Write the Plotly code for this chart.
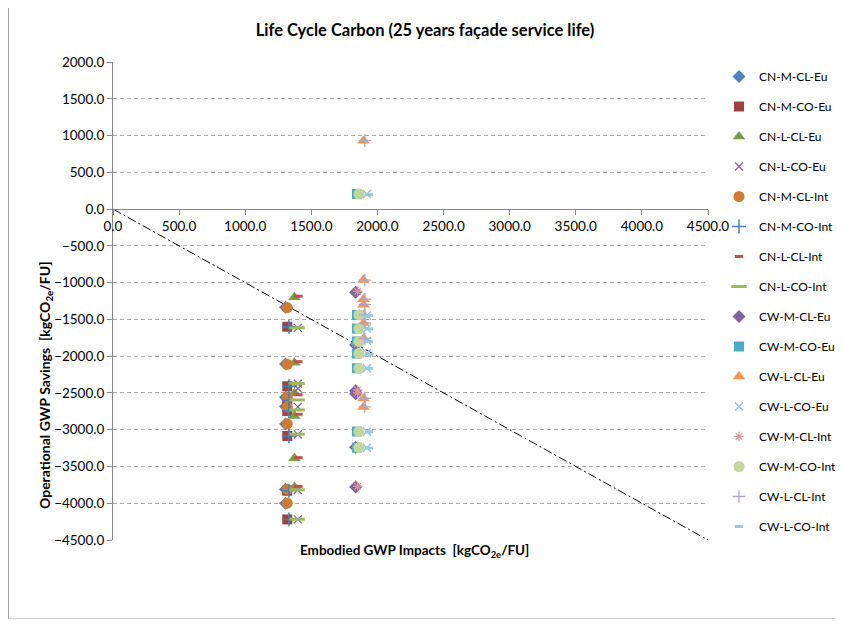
import plotly.graph_objects as go

# ---------------- data ----------------
series_names = [
    "CN-M-CL-Eu", "CN-M-CO-Eu", "CN-L-CL-Eu", "CN-L-CO-Eu",
    "CN-M-CL-Int", "CN-M-CO-Int", "CN-L-CL-Int", "CN-L-CO-Int",
    "CW-M-CL-Eu", "CW-M-CO-Eu", "CW-L-CL-Eu", "CW-L-CO-Eu",
    "CW-M-CL-Int", "CW-M-CO-Int", "CW-L-CL-Int", "CW-L-CO-Int",
]

# embodied GWP impact of each facade option (x)
embodied = [1305, 1318, 1372, 1398, 1318, 1330, 1402, 1392,
            1835, 1845, 1895, 1920, 1850, 1860, 1905, 1935]

# operational GWP savings (y) for each series
sav_cn_m_cl_eu = [-1336, -2106, -2560, -2686, -2921, -3809, -3999]
sav_cn_m_co_eu = [-1600, -2410, -2600, -2745, -3085, -3830, -4220]
sav_cn_l_cl_eu = [-1200, -2090, -2505, -2815, -3390, -3780]
sav_cn_l_co_eu = [-1615, -2375, -2440, -2690, -3065, -3820, -4220]
sav_cn_m_cl_int = [-1340, -2110, -2555, -2690, -2920, -3810, -4000]
sav_cn_m_co_int = [-1600, -2410, -2600, -2745, -3085, -3830, -4220]
sav_cn_l_cl_int = [-1185, -2075, -2525, -2790, -3380, -3770]
sav_cn_l_co_int = [-1615, -2370, -2595, -2731, -3061, -3818, -4217]
sav_cw_m_cl_eu = [-1130, -1850, -2470, -2510, -3240, -3780]
sav_cw_m_co_eu = [205, -1440, -1625, -1800, -1965, -2165, -3025, -3245]
sav_cw_l_cl_eu = [930, -965, -1225, -1300, -1440, -1550, -1760, -2575, -2690]
sav_cw_l_co_eu = [205, -1445, -1625, -1790, -1960, -2165, -3025, -3245]
sav_cw_m_cl_int = [-1120, -1830, -2460, -2500, -3230, -3770]
sav_cw_m_co_int = [205, -1440, -1625, -1800, -1965, -2165, -3025, -3245]
sav_cw_l_cl_int = [930, -965, -1225, -1300, -1440, -1550, -1760, -2575, -2690]
sav_cw_l_co_int = [195, -1450, -1630, -1800, -1975, -2165, -3030, -3250]

savings = [
    sav_cn_m_cl_eu, sav_cn_m_co_eu, sav_cn_l_cl_eu, sav_cn_l_co_eu,
    sav_cn_m_cl_int, sav_cn_m_co_int, sav_cn_l_cl_int, sav_cn_l_co_int,
    sav_cw_m_cl_eu, sav_cw_m_co_eu, sav_cw_l_cl_eu, sav_cw_l_co_eu,
    sav_cw_m_cl_int, sav_cw_m_co_int, sav_cw_l_cl_int, sav_cw_l_co_int,
]

# reference line (payback line y = -x)
ref_x = [0, 4500]
ref_y = [0, -4500]

x_ticks = [0, 500, 1000, 1500, 2000, 2500, 3000, 3500, 4000, 4500]
y_ticks = [2000, 1500, 1000, 500, 0, -500, -1000, -1500, -2000, -2500,
           -3000, -3500, -4000, -4500]

# ---------------- styles ----------------
# (symbol, fill colour, line colour, line width, size)
styles = [
    ("diamond", "#4F81BD", "#4F81BD", 0, 10),
    ("square", "#A0413E", "#A0413E", 0, 10),
    ("triangle-up", "#7B9B48", "#7B9B48", 0, 11),
    ("x-thin", "#7F63A1", "#7F63A1", 1.3, 8),
    ("circle", "#D17B32", "#D17B32", 0, 11),
    ("cross-thin", "#4A7EBB", "#4A7EBB", 1.5, 10),
    ("line-ew", "#C0504D", "#C0504D", 3, 6),
    ("line-ew", "#9BBB59", "#9BBB59", 3, 11),
    ("diamond", "#8064A2", "#8064A2", 0, 10),
    ("square", "#4BACC6", "#4BACC6", 0, 10),
    ("triangle-up", "#F79646", "#F79646", 0, 11),
    ("x-thin", "#A5B7E0", "#A5B7E0", 1.3, 8),
    ("asterisk", "#D99694", "#D99694", 1.2, 8),
    ("circle", "#C3D69B", "#C3D69B", 0, 11),
    ("cross-thin", "#B3A2C7", "#B3A2C7", 1.3, 9),
    ("line-ew", "#93CDDD", "#93CDDD", 3, 6),
]

FONT = "Lato"

fig = go.Figure()

fig.add_trace(go.Scatter(
    x=ref_x, y=ref_y, mode="lines",
    line=dict(color="black", width=1, dash="9px,3px,2px,3px"),
    showlegend=False, hoverinfo="skip",
))

for i, name in enumerate(series_names):
    sym, fc, lc, lw, sz = styles[i]
    ys = savings[i]
    fig.add_trace(go.Scatter(
        x=[embodied[i]] * len(ys), y=ys, mode="markers", name=name,
        legendgroup=name,
        marker=dict(symbol=sym, color=fc, size=sz,
                    line=dict(color=lc, width=lw)),
    ))

# page body has an 8px margin: the figure starts 8px in from the window edge
OFF = 8
W, H = 843 - 2 * OFF, 627 - 2 * OFF
PL, PR, PT, PB = 113, 708, 62, 540          # plot area in window pixels
L, R, T, B = PL - OFF, W - (PR - OFF), PT - OFF, H - (PB - OFF)
pw, ph = W - L - R, H - T - B
ymin, ymax = -4500, 2000
zero_pos = (0 - ymin) / (ymax - ymin)


def px_x(p):
    return (p - OFF - L) / pw


def px_y(p):
    return (H - B - (p - OFF)) / ph


fig.update_layout(
    width=W, height=H,
    margin=dict(l=L, r=R, t=T, b=B, autoexpand=False),
    paper_bgcolor="white", plot_bgcolor="white",
    font=dict(family=FONT, size=12, color="black"),
    title=dict(text="<b>Life Cycle Carbon (25 years façade service life)</b>",
               x=(425 - OFF) / W, xanchor="center",
               y=1 - (30 - OFF) / H, yanchor="middle",
               font=dict(family=FONT, size=16.5, color="black")),
    xaxis=dict(range=[0, 4500], tickvals=x_ticks, tickformat=".1f",
               showgrid=False, zeroline=False,
               showline=True, linecolor="#868686", linewidth=1,
               ticks="outside", ticklen=5, tickcolor="#868686",
               anchor="free", position=zero_pos,
               tickfont=dict(family=FONT, size=13.5)),
    yaxis=dict(range=[ymin, ymax], tickvals=y_ticks, tickformat=".1f",
               showgrid=True, gridcolor="#ABABAB", griddash="4px,3px",
               gridwidth=1, zeroline=False,
               showline=True, linecolor="#868686", linewidth=1,
               ticks="outside", ticklen=5, tickcolor="#868686",
               tickfont=dict(family=FONT, size=13.5)),
    legend=dict(x=px_x(719), xanchor="left",
                y=px_y(62), yanchor="top",
                traceorder="grouped", tracegroupgap=11,
                font=dict(family=FONT, size=12, color="black"),
                bgcolor="rgba(0,0,0,0)"),
    showlegend=True,
)

fig.add_annotation(
    text="<b>Operational GWP Savings  [kgCO<sub>2e</sub>/FU]</b>",
    xref="paper", yref="paper", x=px_x(45), y=px_y(385),
    xanchor="center", yanchor="middle", textangle=-90, showarrow=False,
    font=dict(family=FONT, size=14, color="black"),
)

fig.add_annotation(
    text="<b>Embodied GWP Impacts  [kgCO<sub>2e</sub>/FU]</b>",
    xref="paper", yref="paper", x=px_x(414), y=px_y(551),
    xanchor="center", yanchor="middle", showarrow=False,
    font=dict(family=FONT, size=13.5, color="black"),
)

# chart-area border (left and bottom edges)
fig.add_shape(type="line", xref="paper", yref="paper",
              x0=px_x(OFF + 0.5), x1=px_x(OFF + 0.5), y0=px_y(OFF), y1=px_y(619),
              line=dict(color="#A0A0A0", width=1))
fig.add_shape(type="line", xref="paper", yref="paper",
              x0=px_x(OFF + 0.5), x1=px_x(843), y0=px_y(619), y1=px_y(619),
              line=dict(color="#A0A0A0", width=1))

fig.write_html("out.html")
